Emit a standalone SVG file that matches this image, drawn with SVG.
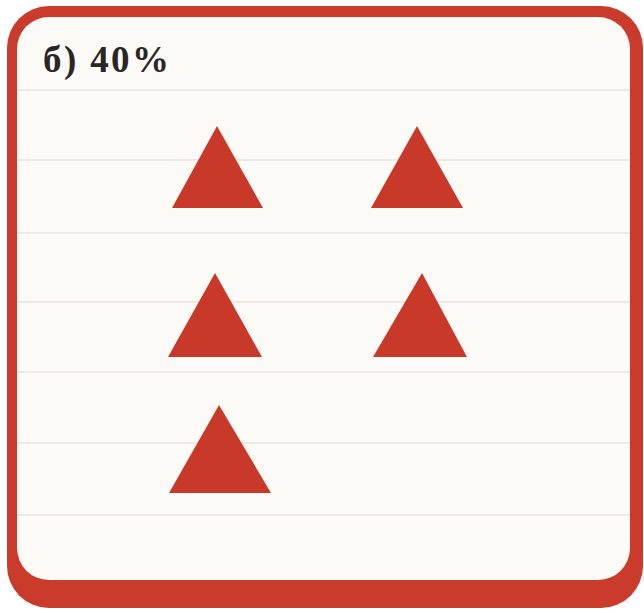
<svg xmlns="http://www.w3.org/2000/svg" width="644" height="613" viewBox="0 0 644 613">
  <style>
    .tri { fill: #c8392a; }
    .rule { stroke: #ede2dc; stroke-width: 1.5; }
    .label { font-family: "Liberation Serif", "DejaVu Serif", serif; font-weight: bold; font-size: 37px; fill: #2a2626; }
  </style>
  <rect width="644" height="613" fill="#ffffff"/>
  <g id="frame">
    <rect x="7" y="6" width="636" height="602" rx="42" fill="#cb3b2c"/>
    <rect x="17" y="17" width="613" height="563" rx="32" fill="#fcfaf6"/>
  </g>
  <g id="rules">
    <line class="rule" x1="17" y1="90" x2="630" y2="90"/>
    <line class="rule" x1="17" y1="160" x2="630" y2="160"/>
    <line class="rule" x1="17" y1="233" x2="630" y2="233"/>
    <line class="rule" x1="17" y1="302" x2="630" y2="302"/>
    <line class="rule" x1="17" y1="372" x2="630" y2="372"/>
    <line class="rule" x1="17" y1="443" x2="630" y2="443"/>
    <line class="rule" x1="17" y1="515" x2="630" y2="515"/>
  </g>
  <g id="title">
    <text class="label" x="43" y="72" textLength="126" lengthAdjust="spacing">б) 40%</text>
  </g>
  <g id="t1"><polygon class="tri" points="217,126 263,208 172,208"/></g>
  <g id="t2"><polygon class="tri" points="417,126 463,208 371,208"/></g>
  <g id="t3"><polygon class="tri" points="215,273 262,357 168,357"/></g>
  <g id="t4"><polygon class="tri" points="422,273 467,357 373,357"/></g>
  <g id="t5"><polygon class="tri" points="219,405 271,493 169,493"/></g>
</svg>
